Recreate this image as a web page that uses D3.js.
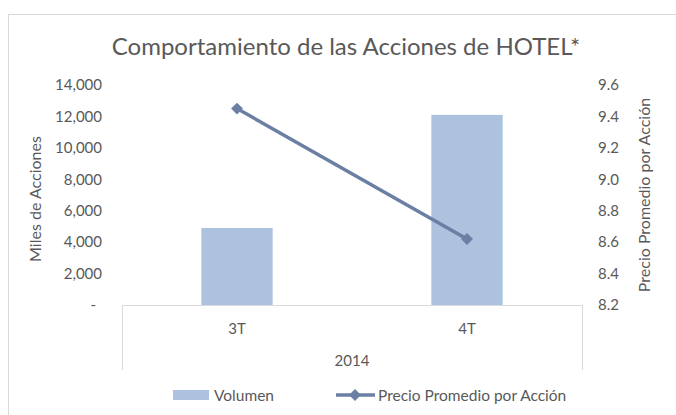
<!DOCTYPE html>
<html>
<head>
<meta charset="utf-8">
<script src="https://cdn.jsdelivr.net/npm/d3@7"></script>
<style>
  body { margin: 0; background: #fff; }
  text { font-family: Lato, "Open Sans", sans-serif; fill: #595959; }
</style>
</head>
<body>
<div id="chart"></div>
<script>
const categories = ["3T", "4T"]
const groupLabel = "2014"
const volumen = [4900, 12100]
const precio = [9.45, 8.62]
const leftTicks = [0, 2000, 4000, 6000, 8000, 10000, 12000, 14000]
const rightTicks = [8.2, 8.4, 8.6, 8.8, 9.0, 9.2, 9.4, 9.6]

const width = 676, height = 415
const margin = {top: 85, right: 94, bottom: 110, left: 122}

const svg = d3.select("#chart").append("svg")
  .attr("width", width)
  .attr("height", height)

// chart frame
svg.append("rect")
  .attr("x", 8.5).attr("y", 14.5)
  .attr("width", 700).attr("height", 450)
  .attr("fill", "none")
  .attr("stroke", "#d9d9d9")

const x = d3.scaleBand()
  .domain(categories)
  .range([margin.left, width - margin.right])
  .paddingInner(0.69)
  .paddingOuter(0.345)

const yL = d3.scaleLinear().domain([0, 14000]).range([height - margin.bottom, margin.top])
const yR = d3.scaleLinear().domain([8.2, 9.6]).range([height - margin.bottom, margin.top])

const fmtL = d => d === 0 ? "-" : d3.format(",")(d)

// left axis
const axL = svg.append("g")
  .attr("transform", `translate(${margin.left - 20},0)`)
  .call(d3.axisLeft(yL).tickValues(leftTicks).tickFormat(fmtL).tickSize(0).tickPadding(0))
axL.select(".domain").remove()
axL.selectAll("text").attr("font-size", 15).attr("fill", "#595959")
  .style("font-family", "Lato, sans-serif")
  .attr("dx", d => d === 0 ? -6 : 0)

// right axis
const axR = svg.append("g")
  .attr("transform", `translate(${width - margin.right + 16},0)`)
  .call(d3.axisRight(yR).tickValues(rightTicks).tickFormat(d3.format(".1f")).tickSize(0).tickPadding(0))
axR.select(".domain").remove()
axR.selectAll("text").attr("font-size", 15).attr("fill", "#595959")
  .style("font-family", "Lato, sans-serif")

// bars
svg.append("g").selectAll("rect")
  .data(categories)
  .join("rect")
    .attr("x", d => x(d))
    .attr("width", x.bandwidth())
    .attr("y", (d, i) => yL(volumen[i]))
    .attr("height", (d, i) => yL(0) - yL(volumen[i]))
    .attr("fill", "#adc2df")

// category axis box
const base = height - margin.bottom
const boxBottom = 370
const cat = svg.append("g").attr("stroke", "#d9d9d9").attr("fill", "none")
cat.append("line")
  .attr("x1", margin.left).attr("x2", width - margin.right)
  .attr("y1", base + 0.5).attr("y2", base + 0.5)
cat.append("line")
  .attr("x1", margin.left + 0.5).attr("x2", margin.left + 0.5)
  .attr("y1", base).attr("y2", boxBottom)
cat.append("line")
  .attr("x1", width - margin.right + 0.5).attr("x2", width - margin.right + 0.5)
  .attr("y1", base).attr("y2", boxBottom)

svg.append("g").selectAll("text")
  .data(categories)
  .join("text")
    .attr("x", d => x(d) + x.bandwidth() / 2)
    .attr("y", base + 29)
    .attr("text-anchor", "middle")
    .attr("font-size", 15)
    .text(d => d)

svg.append("text")
  .attr("x", (margin.left + width - margin.right) / 2)
  .attr("y", base + 61)
  .attr("text-anchor", "middle")
  .attr("font-size", 15)
  .text(groupLabel)

// line series
const pts = categories.map((c, i) => [x(c) + x.bandwidth() / 2, yR(precio[i])])
svg.append("path")
  .attr("d", d3.line()(pts))
  .attr("fill", "none")
  .attr("stroke", "#6a7fa3")
  .attr("stroke-width", 3.5)

svg.append("g").selectAll("path")
  .data(pts)
  .join("path")
    .attr("d", d3.symbol(d3.symbolDiamond2, 90))
    .attr("transform", d => `translate(${d[0]},${d[1]})`)
    .attr("fill", "#6a7fa3")

// title
svg.append("text")
  .attr("x", 346)
  .attr("y", 55)
  .attr("text-anchor", "middle")
  .attr("font-size", 24)
  .text("Comportamiento de las Acciones de HOTEL*")

// axis titles
svg.append("text")
  .attr("transform", `translate(41,199) rotate(-90)`)
  .attr("text-anchor", "middle")
  .attr("font-size", 16)
  .text("Miles de Acciones")

svg.append("text")
  .attr("transform", `translate(650,195) rotate(-90)`)
  .attr("text-anchor", "middle")
  .attr("font-size", 16)
  .text("Precio Promedio por Acción")

// legend
const lg = svg.append("g").attr("transform", "translate(0,395)")
lg.append("rect")
  .attr("x", 173).attr("y", -5).attr("width", 36).attr("height", 10)
  .attr("fill", "#adc2df")
lg.append("text")
  .attr("x", 214).attr("y", 5.5)
  .attr("font-size", 15.5)
  .text("Volumen")
lg.append("line")
  .attr("x1", 336).attr("x2", 375).attr("y1", 0).attr("y2", 0)
  .attr("stroke", "#6a7fa3").attr("stroke-width", 3.5)
lg.append("path")
  .attr("d", d3.symbol(d3.symbolDiamond2, 90))
  .attr("transform", "translate(355,0)")
  .attr("fill", "#6a7fa3")
lg.append("text")
  .attr("x", 378).attr("y", 5.5)
  .attr("font-size", 15.5)
  .text("Precio Promedio por Acción")
</script>
</body>
</html>
